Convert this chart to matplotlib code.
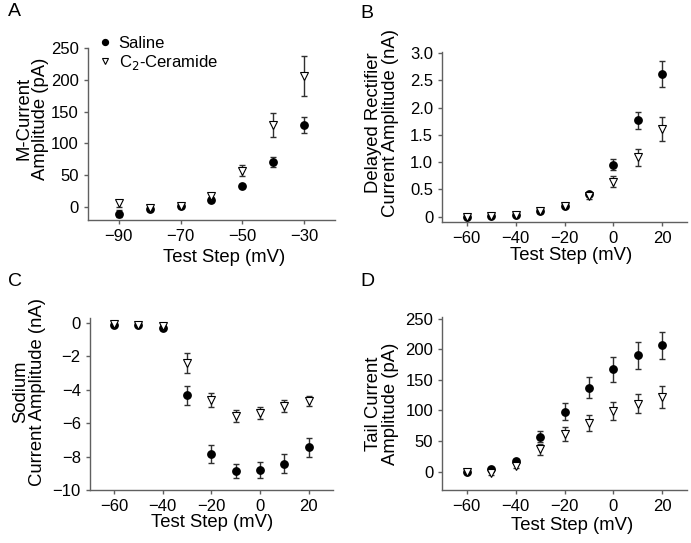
import numpy as np
import matplotlib.pyplot as plt

plt.rcParams['font.family'] = ['Liberation Sans', 'DejaVu Sans']

# panel A: M-current
a_x = [-90, -80, -70, -60, -50, -40, -30]
a_sal = [-10, -3, 2, 12, 33, 71, 129]
a_sal_err = [5, 3, 3, 4, 3, 8, 12.5]
a_cer = [6, -1, 2, 17, 57, 129, 206]
a_cer_err = [5, 3, 3, 4, 8.5, 19, 31]

# panel B: delayed rectifier
b_x = [-60, -50, -40, -30, -20, -10, 0, 10, 20]
b_sal = [0, 0.01, 0.03, 0.1, 0.2, 0.42, 0.95, 1.77, 2.62]
b_sal_err = [0.02, 0.02, 0.02, 0.03, 0.03, 0.04, 0.1, 0.16, 0.245]
b_cer = [0, 0.01, 0.03, 0.1, 0.2, 0.37, 0.64, 1.09, 1.6]
b_cer_err = [0.02, 0.02, 0.02, 0.03, 0.03, 0.04, 0.1, 0.16, 0.22]

# panel C: sodium
c_x = [-60, -50, -40, -30, -20, -10, 0, 10, 20]
c_sal = [-0.12, -0.12, -0.32, -4.34, -7.83, -8.86, -8.8, -8.43, -7.45]
c_sal_err = [0.05, 0.05, 0.08, 0.55, 0.55, 0.42, 0.5, 0.57, 0.57]
c_cer = [-0.06, -0.1, -0.2, -2.4, -4.62, -5.58, -5.38, -4.98, -4.68]
c_cer_err = [0.05, 0.05, 0.08, 0.61, 0.42, 0.38, 0.36, 0.35, 0.32]

# panel D: tail current
d_x = [-60, -50, -40, -30, -20, -10, 0, 10, 20]
d_sal = [0, 3.7, 17, 57, 98, 137, 167, 190, 206]
d_sal_err = [2, 2, 3, 9, 13.5, 17.5, 20, 22, 21.5]
d_cer = [0, -2.7, 9, 36.6, 61, 80, 99, 111, 122]
d_cer_err = [2, 2, 3, 9, 11.6, 13, 14, 16, 18]

fig = plt.figure(figsize=(6.91, 5.43), dpi=100)

# letter, axes rect, data..., ylabel, xlim, ylim, xticks, yticks, yticklabels,
# ylabel pos (axes frac), xlabel pos (axes frac), letter pos (fig px)
panels = [
    ('A', [0.127, 0.595, 0.358, 0.317], a_x, a_sal, a_sal_err, a_cer, a_cer_err,
     'M-Current\nAmplitude (pA)', (-100, -20), (-20, 250),
     [-90, -70, -50, -30], [0, 50, 100, 150, 200, 250], None,
     (-0.225, 0.59), (0.55, -0.22), (8, 12)),
    ('B', [0.640, 0.591, 0.354, 0.313], b_x, b_sal, b_sal_err, b_cer, b_cer_err,
     'Delayed Rectifier\nCurrent Amplitude (nA)', (-70, 30), (-0.1, 3.02),
     [-60, -40, -20, 0, 20], [0, 0.5, 1.0, 1.5, 2.0, 2.5, 3.0],
     ['0', '0.5', '1.0', '1.5', '2.0', '2.5', '3.0'],
     (-0.245, 0.585), (0.527, -0.194), (360, 13)),
    ('C', [0.130, 0.0976, 0.352, 0.317], c_x, c_sal, c_sal_err, c_cer, c_cer_err,
     'Sodium\nCurrent Amplitude (nA)', (-70, 30), (-10, 0.3),
     [-60, -40, -20, 0, 20], [0, -2, -4, -6, -8, -10], None,
     (-0.25, 0.57), (0.504, -0.186), (8, 281)),
    ('D', [0.640, 0.0976, 0.354, 0.318], d_x, d_sal, d_sal_err, d_cer, d_cer_err,
     'Tail Current\nAmplitude (pA)', (-70, 30), (-30, 252),
     [-60, -40, -20, 0, 20], [0, 50, 100, 150, 200, 250], None,
     (-0.245, 0.5), (0.53, -0.208), (360, 281)),
]

spine_col = '#606060'
W, H = 691, 543
for (letter, rect, x, sal, sal_e, cer, cer_e, ylab, xl, yl, xt, yt, ytl,
     ylpos, xlpos, lpos) in panels:
    ax = fig.add_axes(rect)
    ax.errorbar(x, sal, yerr=sal_e, fmt='none', ecolor='#303030', elinewidth=1,
                capsize=2.5, capthick=1, zorder=2)
    ax.errorbar(x, cer, yerr=cer_e, fmt='none', ecolor='#303030', elinewidth=1,
                capsize=2.5, capthick=1, zorder=2)
    ax.plot(x, sal, 'o', color='black', markersize=5.3, ls='none', zorder=3,
            label='Saline')
    ax.plot(x, cer, 'v', mfc='white', mec='black', mew=0.8, markersize=5.5,
            ls='none', zorder=4, label='C$_2$-Ceramide')
    ax.set_xlim(xl)
    ax.set_ylim(yl)
    ax.set_xticks(xt)
    ax.set_yticks(yt)
    if ytl is not None:
        ax.set_yticklabels(ytl)
    ax.spines['top'].set_visible(False)
    ax.spines['right'].set_visible(False)
    for s in ['left', 'bottom']:
        ax.spines[s].set_color(spine_col)
        ax.spines[s].set_linewidth(1)
    ax.tick_params(direction='out', length=3, width=1, color=spine_col,
                   labelsize=12, pad=3.5)
    ax.set_xlabel('Test Step (mV)', fontsize=13.3, va='center')
    ax.xaxis.set_label_coords(*xlpos)
    ax.set_ylabel(ylab, fontsize=13.3, linespacing=1.0, va='center')
    ax.yaxis.set_label_coords(*ylpos)
    fig.text(lpos[0] / W, 1 - lpos[1] / H, letter, fontsize=14,
             va='center', ha='left')
    if letter == 'A':
        ax.legend(loc='upper left', bbox_to_anchor=(0.01, 1.11), frameon=False,
                  fontsize=12, handletextpad=0.3, labelspacing=0.15,
                  handlelength=1.0, borderaxespad=0, markerscale=0.8)

fig.savefig('out.png', dpi=100)
